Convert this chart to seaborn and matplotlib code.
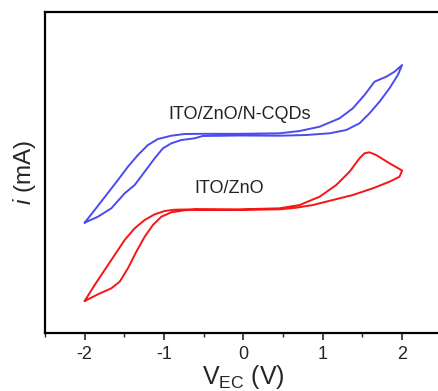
import numpy as np
import pandas as pd
import matplotlib
matplotlib.use("Agg")
import matplotlib.pyplot as plt
from matplotlib.ticker import MultipleLocator
import seaborn as sns

# =========================
# Data
# =========================
# ITO/ZnO/N-CQDs: forward scan (-2 -> 2) then reverse scan (2 -> -2)
cqd_v_fwd = [-2.0, -1.874, -1.727, -1.581, -1.455, -1.329, -1.203, -1.077, -0.908, -0.741,
             -0.514, -0.048, 0.456, 0.708, 0.96, 1.212, 1.379, 1.526, 1.652, 1.8, 1.904, 2.0]
cqd_i_fwd = [1.103, 1.23, 1.38, 1.53, 1.663, 1.78, 1.88, 1.94, 1.973, 1.99,
             1.992, 1.992, 1.997, 2.02, 2.063, 2.147, 2.247, 2.38, 2.513, 2.563, 2.613, 2.68]
cqd_v_rev = [2.0, 1.946, 1.841, 1.715, 1.589, 1.463, 1.296, 1.085, 0.792, 0.456,
             -0.048, -0.514, -0.615, -0.782, -0.908, -1.014, -1.118, -1.244, -1.37, -1.496,
             -1.664, -1.833, -2.0]
cqd_i_rev = [2.68, 2.58, 2.447, 2.313, 2.197, 2.097, 2.03, 1.997, 1.98, 1.973,
             1.975, 1.97, 1.947, 1.93, 1.897, 1.847, 1.747, 1.613, 1.48, 1.397,
             1.247, 1.163, 1.103]

# ITO/ZnO
zno_v_fwd = [-2.0, -1.874, -1.748, -1.622, -1.496, -1.37, -1.244, -1.118, -0.993, -0.867,
             -0.615, -0.048, 0.456, 0.708, 0.96, 1.17, 1.338, 1.463, 1.526, 1.589,
             1.673, 1.841, 2.0]
zno_i_fwd = [0.32, 0.48, 0.63, 0.78, 0.93, 1.047, 1.13, 1.187, 1.22, 1.233,
             1.237, 1.237, 1.247, 1.28, 1.363, 1.48, 1.613, 1.747, 1.797, 1.807,
             1.78, 1.697, 1.625]
zno_v_rev = [2.0, 1.967, 1.841, 1.631, 1.379, 1.127, 0.875, 0.666, 0.456, -0.048,
             -0.615, -0.741, -0.908, -1.034, -1.14, -1.244, -1.349, -1.455, -1.559, -1.664,
             -1.833, -2.0]
zno_i_rev = [1.625, 1.563, 1.513, 1.447, 1.38, 1.33, 1.28, 1.253, 1.237, 1.23,
             1.233, 1.227, 1.207, 1.163, 1.08, 0.963, 0.813, 0.647, 0.513, 0.447,
             0.387, 0.32]

x_ticks = [-2, -1, 0, 1, 2]

# =========================
# Style
# =========================
sns.set_style("ticks")
plt.rcParams['font.family'] = ['Liberation Sans', 'DejaVu Sans']
plt.rcParams['mathtext.fontset'] = 'custom'
plt.rcParams['mathtext.rm'] = 'Liberation Sans'
plt.rcParams['mathtext.it'] = 'Liberation Sans:italic'

fig = plt.figure(figsize=(4.38, 3.91), dpi=100)
ax = fig.add_axes([0.1027, 0.1483, 0.906, 0.821])

cqd = pd.DataFrame({"V": cqd_v_fwd + cqd_v_rev, "I": cqd_i_fwd + cqd_i_rev})
zno = pd.DataFrame({"V": zno_v_fwd + zno_v_rev, "I": zno_i_fwd + zno_i_rev})

sns.lineplot(data=cqd, x="V", y="I", sort=False, estimator=None,
             color="#4b4bef", lw=1.4, ax=ax)
sns.lineplot(data=zno, x="V", y="I", sort=False, estimator=None,
             color="#f51515", lw=1.4, ax=ax)

ax.text(-0.05, 2.19, "ITO/ZnO/N-CQDs", ha="center", va="center", fontsize=13, color="#222222")
ax.text(-0.18, 1.45, "ITO/ZnO", ha="center", va="center", fontsize=13, color="#222222")

ax.set_xlim(-2.5, 2.5)
ax.set_ylim(0, 3.21)
ax.set_xticks(x_ticks)
ax.set_xticklabels([str(t) for t in x_ticks])
ax.xaxis.set_minor_locator(MultipleLocator(0.5))
ax.set_yticks([])
ax.tick_params(axis='x', which='major', direction='out', length=5, width=1.2,
               labelsize=13, pad=4, top=False)
ax.tick_params(axis='x', which='minor', direction='out', length=3, width=1.0, top=False)

for side in ["left", "top", "bottom"]:
    ax.spines[side].set_linewidth(1.6)
    ax.spines[side].set_color("black")
ax.spines["right"].set_visible(False)

ax.set_xlabel(r"V$_{\mathrm{EC}}$ (V)", fontsize=18, labelpad=0)
ax.set_ylabel(r"$i$ (mA)", fontsize=17.5, labelpad=5)

plt.savefig("out.png", dpi=100)
